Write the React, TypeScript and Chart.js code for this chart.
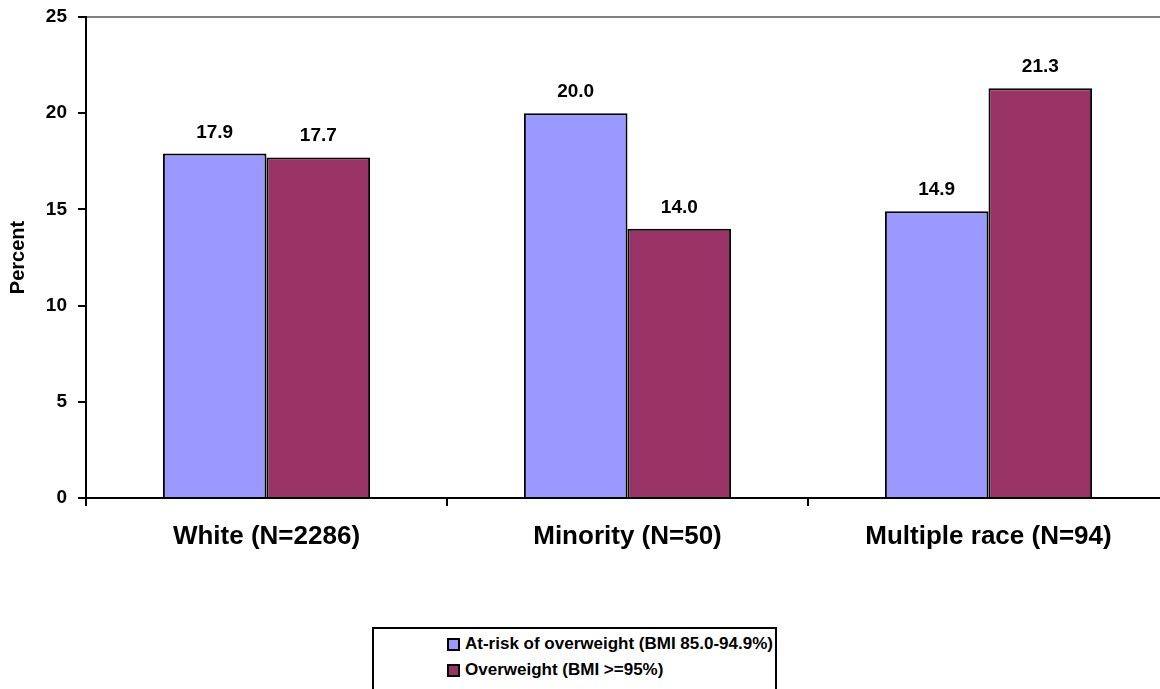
import React, { useEffect, useRef } from "react";
import { Chart, registerables } from "chart.js";

Chart.register(...registerables);

const categories = ["White (N=2286)", "Minority (N=50)", "Multiple race (N=94)"];
const atRiskValues = [17.9, 20.0, 14.9];
const overweightValues = [17.7, 14.0, 21.3];
const seriesLabels = ["At-risk of overweight (BMI 85.0-94.9%)", "Overweight (BMI >=95%)"];
const seriesColors = ["#9999FF", "#993366"];
const yTicks = { min: 0, max: 25, step: 5 };

const FONT = "'Liberation Sans', Arial, Helvetica, sans-serif";

const valueLabelPlugin = {
  id: "valueLabels",
  afterDatasetsDraw(chart: any) {
    const ctx = chart.ctx;
    ctx.save();
    ctx.font = `bold 19px ${FONT}`;
    ctx.fillStyle = "#000";
    ctx.textAlign = "center";
    ctx.textBaseline = "alphabetic";
    chart.data.datasets.forEach((ds: any, i: number) => {
      const meta = chart.getDatasetMeta(i);
      meta.data.forEach((bar: any, j: number) => {
        const v = ds.data[j] as number;
        ctx.fillText(v.toFixed(1), bar.x, bar.y - 16);
      });
    });
    ctx.restore();
  },
};

export default function App() {
  const canvasRef = useRef<HTMLCanvasElement | null>(null);

  useEffect(() => {
    const canvas = canvasRef.current;
    if (!canvas) return;
    const chart = new Chart(canvas, {
      type: "bar",
      data: {
        labels: categories,
        datasets: [
          {
            label: seriesLabels[0],
            data: atRiskValues,
            backgroundColor: seriesColors[0],
            borderColor: "#000",
            borderWidth: 2,
            barPercentage: 1,
            categoryPercentage: 0.574,
          },
          {
            label: seriesLabels[1],
            data: overweightValues,
            backgroundColor: seriesColors[1],
            borderColor: "#000",
            borderWidth: 2,
            barPercentage: 1,
            categoryPercentage: 0.574,
          },
        ],
      },
      options: {
        responsive: false,
        animation: false,
        devicePixelRatio: 1,
        layout: { padding: { top: 17, right: 11, left: 0, bottom: 0 } },
        plugins: {
          legend: { display: false },
          tooltip: { enabled: false },
        },
        scales: {
          x: {
            offset: true,
            grid: {
              offset: true,
              drawOnChartArea: false,
              drawTicks: true,
              tickLength: 8,
              tickColor: "#000",
              lineWidth: 2,
            },
            border: { display: true, color: "#000", width: 2 },
            ticks: {
              color: "#000",
              font: { family: FONT, size: 26, weight: "bold" },
              padding: 15,
              maxRotation: 0,
              autoSkip: false,
            },
            afterFit(scale: any) {
              scale.height = 191;
              scale.paddingLeft = 0;
              scale.paddingRight = 0;
            },
          },
          y: {
            min: yTicks.min,
            max: yTicks.max,
            ticks: {
              stepSize: yTicks.step,
              color: "#000",
              font: { family: FONT, size: 19, weight: "bold" },
              padding: 11,
            },
            grid: {
              color: (ctx: any) => (ctx.tick && ctx.tick.value === yTicks.max ? "#808080" : "rgba(0,0,0,0)"),
              tickColor: "#000",
              tickLength: 8,
              lineWidth: 2,
            },
            border: { display: true, color: "#000", width: 2 },
            title: {
              display: true,
              text: "Percent",
              color: "#000",
              font: { family: FONT, size: 20, weight: "bold" },
              padding: { top: 6, bottom: 0 },
            },
            afterFit(scale: any) {
              scale.width = 86;
              scale.paddingTop = 0;
              scale.paddingBottom = 0;
            },
          },
        },
      },
      plugins: [valueLabelPlugin],
    });
    return () => chart.destroy();
  }, []);

  return (
    <div style={{ position: "fixed", left: 0, top: 0, width: 1180, height: 689, overflow: "hidden", background: "#fff" }}>
      <canvas ref={canvasRef} width={1180} height={689} style={{ display: "block", width: 1180, height: 689 }} />
      <div
        style={{
          position: "absolute",
          left: 372,
          top: 627,
          width: 405,
          height: 90,
          boxSizing: "border-box",
          border: "2px solid #000",
          background: "#fff",
          fontFamily: FONT,
          fontWeight: "bold",
          fontSize: 17,
          color: "#000",
        }}
      >
        {seriesLabels.map((lbl, i) => (
          <div
            key={lbl}
            style={{ position: "absolute", left: 73, top: 2 + i * 26, height: 26, display: "flex", alignItems: "center", whiteSpace: "nowrap" }}
          >
            <span
              style={{
                display: "inline-block",
                width: 13,
                height: 13,
                boxSizing: "border-box",
                border: "2px solid #000",
                background: seriesColors[i],
                marginRight: 5,
              }}
            />
            <span>{lbl}</span>
          </div>
        ))}
      </div>
    </div>
  );
}
